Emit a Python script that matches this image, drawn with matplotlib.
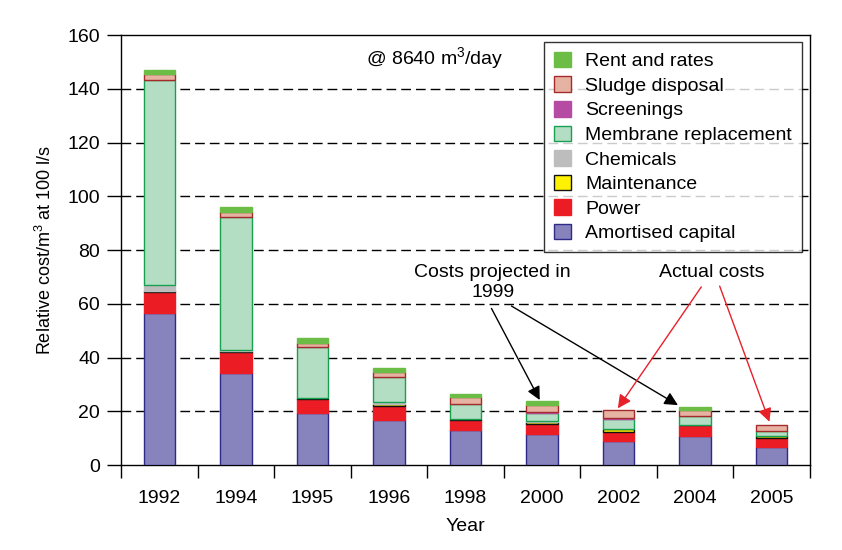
import matplotlib
matplotlib.use("Agg")
import matplotlib.pyplot as plt
import numpy as np
from matplotlib.patches import Patch

plt.rcParams['font.family'] = ['Liberation Sans', 'DejaVu Sans']
plt.rcParams['mathtext.default'] = 'regular'

years = ['1992', '1994', '1995', '1996', '1998', '2000', '2002', '2004', '2005']
capital     = [56.7, 34.4, 19.5, 16.7, 13.0, 11.5, 8.9, 10.9, 6.8]
power       = [7.6, 7.6, 5.1, 5.3, 3.6, 3.8, 3.3, 3.9, 3.1]
maintenance = [0.6, 0.5, 0.5, 0.6, 0.6, 0.7, 1.2, 0.2, 0.9]
chemicals   = [2.1, 0.2, 0.0, 0.7, 0.0, 0.3, 0.0, 0.0, 0.0]
membrane    = [76.5, 49.7, 18.8, 9.3, 5.7, 2.9, 3.6, 3.1, 1.7]
screenings  = [0.0, 0.0, 0.0, 0.0, 0.0, 0.6, 0.4, 0.0, 0.0]
sludge      = [2.2, 1.9, 1.6, 2.0, 2.5, 2.6, 3.1, 2.5, 2.3]
rent        = [1.5, 1.8, 1.6, 1.4, 1.0, 1.4, 0.0, 1.1, 0.0]

series = [
    ('Amortised capital', capital, '#8783BC', '#2E2A8A'),
    ('Power', power, '#EC1C24', '#EC1C24'),
    ('Maintenance', maintenance, '#FFF200', '#111111'),
    ('Chemicals', chemicals, '#BDBDBD', '#BDBDBD'),
    ('Membrane replacement', membrane, '#B3DEC3', '#17A050'),
    ('Screenings', screenings, '#B64BA4', '#B64BA4'),
    ('Sludge disposal', sludge, '#E6B3A3', '#A52A2A'),
    ('Rent and rates', rent, '#6CBD45', '#6CBD45'),
]

FS = 14

fig = plt.figure(figsize=(8.42, 5.5), dpi=100)
ax = fig.add_axes([0.1437, 0.1545, 0.962 - 0.1437, 0.936 - 0.1545])

x = np.arange(len(years))
bottom = np.zeros(len(years))
handles = []
for name, vals, fc, ec in series:
    v = np.array(vals)
    mask = v > 0
    ax.bar(x[mask], v[mask], bottom=bottom[mask], width=0.41, color=fc,
           edgecolor=ec, linewidth=1.0, zorder=3)
    bottom += v
    handles.append(Patch(facecolor=fc, edgecolor=ec, linewidth=1.0, label=name))

ax.set_xlim(-0.5, len(years) - 0.5)
ax.set_ylim(0, 160)
ax.set_yticks(np.arange(0, 161, 20))
ax.set_xticks(x)
ax.set_xticklabels(years)
ax.set_xticks(np.arange(-0.5, len(years), 1.0), minor=True)
ax.tick_params(axis='x', which='major', length=0, labelsize=FS, pad=18)
ax.tick_params(axis='x', which='minor', length=9.5, width=1, direction='out')
ax.tick_params(axis='y', which='major', length=10, width=1, direction='out',
               labelsize=FS, pad=5)

for yv in range(20, 160, 20):
    ax.axhline(yv, color='black', linestyle=(0, (7, 3.6)), linewidth=1.0, zorder=1)

for s in ax.spines.values():
    s.set_linewidth(1.0)
    s.set_color('black')

ax.set_ylabel('Relative cost/m$^{3}$ at 100 l/s', fontsize=13, labelpad=9)
ax.set_xlabel('Year', fontsize=FS, labelpad=8)

ax.text(3.6, 151.5, '@ 8640 m$^{3}$/day', ha='center', va='center', fontsize=FS)

leg = ax.legend(handles=handles[::-1], loc='upper right', bbox_to_anchor=(0.988, 0.984),
                borderaxespad=0, fontsize=FS, frameon=True, fancybox=False,
                edgecolor='black', handlelength=0.86, handleheight=0.86,
                labelspacing=0.31, handletextpad=0.75, borderpad=0.5)
leg.get_frame().set_linewidth(1.0)
leg.set_zorder(5)

ax.text(4.356, 67.9, 'Costs projected in\n1999', ha='center', va='center',
        fontsize=FS, linespacing=1.25, zorder=6)
ax.text(7.215, 71.8, 'Actual costs', ha='center', va='center', fontsize=FS, zorder=6)

arrows = [
    ((4.339, 58.3), (4.97, 24.2), 'black'),
    ((4.60, 59.2), (6.775, 22.3), 'black'),
    ((7.08, 66.3), (5.99, 21.1), '#E8202A'),
    ((7.32, 66.6), (7.97, 16.1), '#E8202A'),
]
for (sx, sy), (tx, ty), c in arrows:
    ax.annotate('', xy=(tx, ty), xytext=(sx, sy),
                arrowprops=dict(arrowstyle='-|>', color=c, lw=1.0,
                                mutation_scale=20, shrinkA=0, shrinkB=0),
                zorder=6)

fig.savefig('out.png', dpi=100)
